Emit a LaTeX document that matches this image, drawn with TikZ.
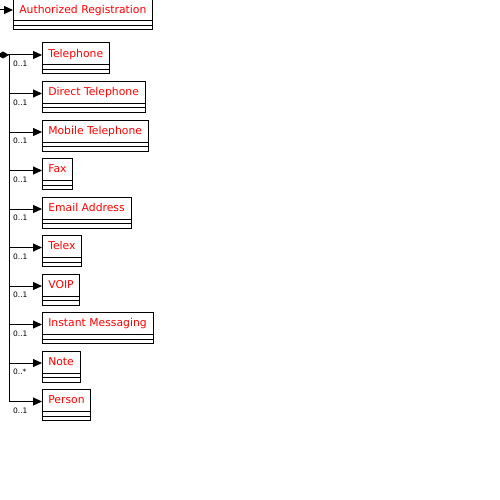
\documentclass[tikz,border=0pt]{standalone}
\usepackage{fontspec}
\setmainfont{DejaVu Sans}
\usetikzlibrary{arrows.meta}
\usetikzlibrary{positioning}
\usetikzlibrary{calc}

\begin{document}
\begin{tikzpicture}[
x=1pt, y=-1pt,
umlclass/.style={rectangle, draw, line width=1pt, anchor=north west, outer sep=0pt,
  inner xsep=6.3pt, minimum height=22pt, text height=9.5pt, text depth=3pt,
  font=\fontsize{10.8}{12}\selectfont, text=red},
mult/.style={anchor=north west, inner sep=0pt, font=\fontsize{7.5}{8}\selectfont},
link/.style={line width=1pt, -{Triangle[length=9pt,width=8pt]}},
gap/.style={below=16.5pt of #1, anchor=north west}
]
\useasboundingbox (0,0) rectangle (500,500);

% classes
\node[umlclass] (reg) at (13,-1) {Authorized Registration};
\node[umlclass] (tel) at (42,43) {Telephone};
\node[umlclass, gap=tel.south west] (dtel) {Direct Telephone};
\node[umlclass, gap=dtel.south west] (mtel) {Mobile Telephone};
\node[umlclass, gap=mtel.south west] (fax) {Fax};
\node[umlclass, gap=fax.south west] (mail) {Email Address};
\node[umlclass, gap=mail.south west] (telex) {Telex};
\node[umlclass, gap=telex.south west] (voip) {VOIP};
\node[umlclass, gap=voip.south west] (im) {Instant Messaging};
\node[umlclass, gap=im.south west] (note) {Note};
\node[umlclass, gap=note.south west] (pers) {Person};

% empty attribute and operation compartments
\foreach \c in {reg,tel,dtel,mtel,fax,mail,telex,voip,im,note,pers}
  \draw[line width=1pt] (\c.south west) rectangle ($(\c.south east)+(0,9)$)
    ($(\c.south west)+(0,4.5)$) -- ($(\c.south east)+(0,4.5)$);

% junctions on the trunk
\coordinate (in) at ($(reg.north west)+(-16,11)$);
\coordinate (j1) at ($(tel.north west)+(-33,12)$);
\coordinate (j2) at ($(dtel.north west)+(-33,12)$);
\coordinate (j3) at ($(mtel.north west)+(-33,12)$);
\coordinate (j4) at ($(fax.north west)+(-33,12)$);
\coordinate (j5) at ($(mail.north west)+(-33,12)$);
\coordinate (j6) at ($(telex.north west)+(-33,12)$);
\coordinate (j7) at ($(voip.north west)+(-33,12)$);
\coordinate (j8) at ($(im.north west)+(-33,12)$);
\coordinate (j9) at ($(note.north west)+(-33,12)$);
\coordinate (j10) at ($(pers.north west)+(-33,12)$);
\coordinate (root) at ($(j1)+(-12,0)$);

% incoming link
\draw[link] (in) -- (in -| reg.west);

% trunk
\draw[line width=1pt, -{Diamond[length=12pt,width=7pt]}] (j1) -- (root);
\draw[line width=1pt] (j1) -- (j10);

% links
\draw[link] (j1) -- (j1 -| tel.west);
\draw[link] (j2) -- (j2 -| dtel.west);
\draw[link] (j3) -- (j3 -| mtel.west);
\draw[link] (j4) -- (j4 -| fax.west);
\draw[link] (j5) -- (j5 -| mail.west);
\draw[link] (j6) -- (j6 -| telex.west);
\draw[link] (j7) -- (j7 -| voip.west);
\draw[link] (j8) -- (j8 -| im.west);
\draw[link] (j9) -- (j9 -| note.west);
\draw[link] (j10) -- (j10 -| pers.west);

% multiplicities
\node[mult] (m1) at ($(j1)+(4,6)$) {0..1};
\node[mult] (m2) at ($(j2)+(4,6)$) {0..1};
\node[mult] (m3) at ($(j3)+(4,6)$) {0..1};
\node[mult] (m4) at ($(j4)+(4,6)$) {0..1};
\node[mult] (m5) at ($(j5)+(4,6)$) {0..1};
\node[mult] (m6) at ($(j6)+(4,6)$) {0..1};
\node[mult] (m7) at ($(j7)+(4,6)$) {0..1};
\node[mult] (m8) at ($(j8)+(4,6)$) {0..1};
\node[mult] (m9) at ($(j9)+(4,6)$) {0..*};
\node[mult] (m10) at ($(j10)+(4,6)$) {0..1};

\end{tikzpicture}
\end{document}
